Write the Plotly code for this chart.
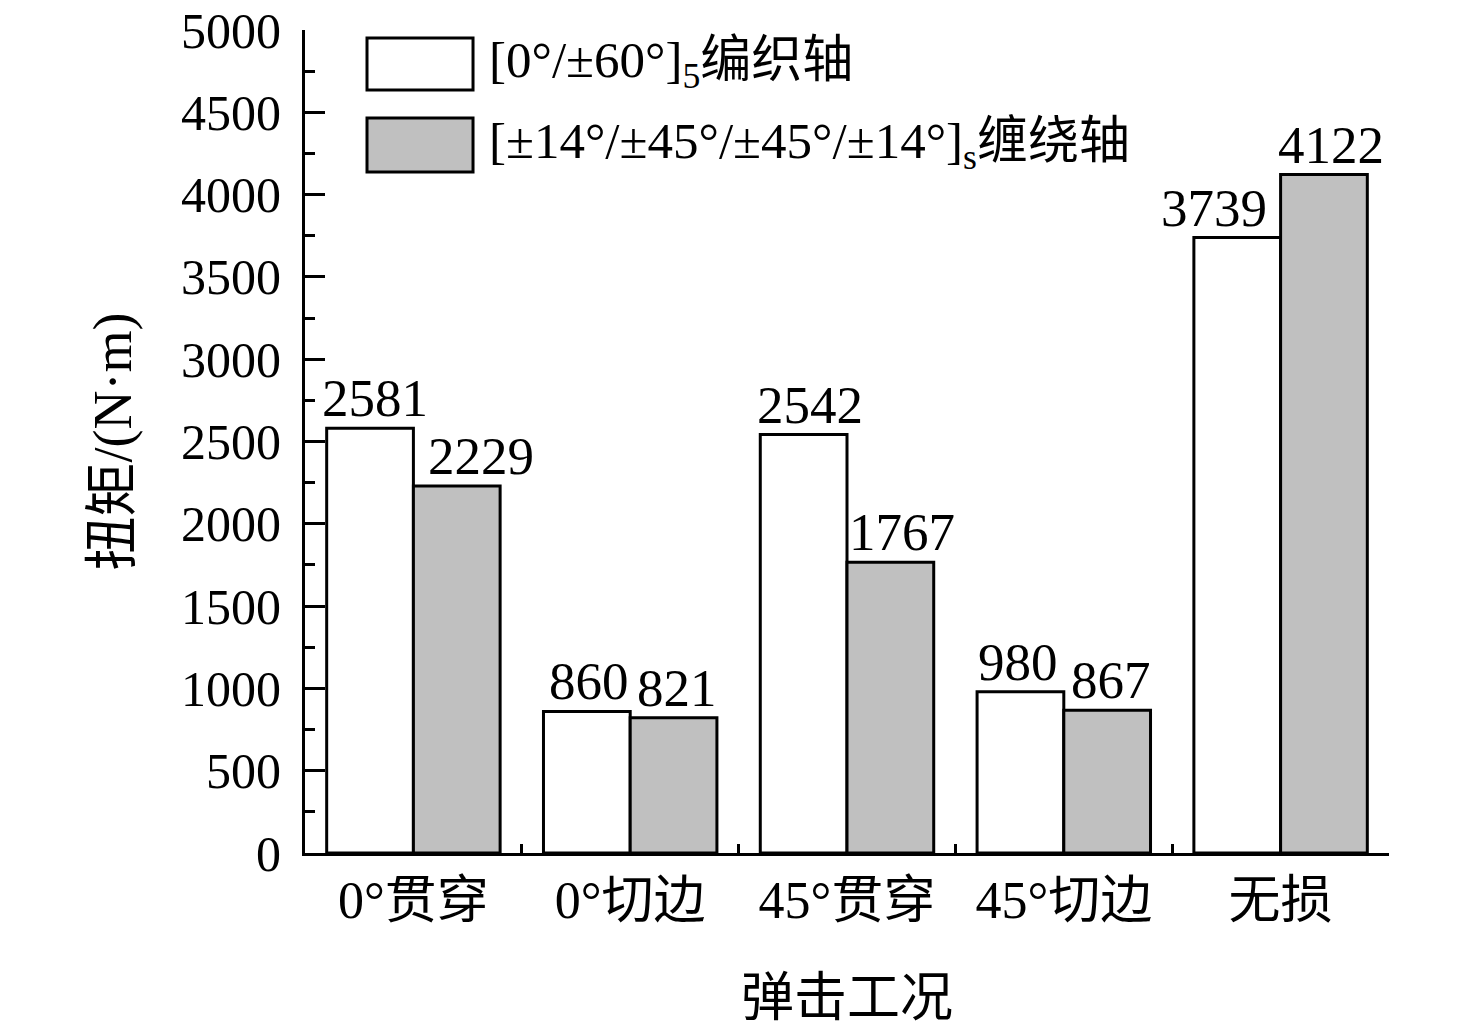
import plotly.graph_objects as go

categories = ["0°贯穿", "0°切边", "45°贯穿", "45°切边", "无损"]
braided = [2581, 860, 2542, 980, 3739]
wound = [2229, 821, 1767, 867, 4122]
series_names = ["[0°/±60°]<sub>5</sub>编织轴", "[±14°/±45°/±45°/±14°]<sub>s</sub>缠绕轴"]
series_colors = ["#ffffff", "#c0c0c0"]
y_ticks = list(range(0, 5001, 500))

# label nudges (pixels) relative to the bar centre, as placed in the original
label_nudge = [[5, 2, 6, -2, -23], [24, 3, 12, 4, 7]]

FONT = "Liberation Serif, Times New Roman, Noto Sans CJK SC, serif"

W, H = 1476, 1031
L, R, T, B = 305, 87, 30, 178
BARGAP = 0.2
plot_w = W - L - R
cat_w = plot_w / len(categories)
bar_w = cat_w * (1 - BARGAP) / 2

fig = go.Figure()
for vals, name, col in zip([braided, wound], series_names, series_colors):
    fig.add_trace(go.Bar(
        x=categories, y=vals, name=name,
        marker=dict(color=col, line=dict(color="black", width=3)),
        showlegend=False,
    ))

# data labels
for s, vals in enumerate([braided, wound]):
    side = -1 if s == 0 else 1
    for i, (c, v) in enumerate(zip(categories, vals)):
        fig.add_annotation(x=c, y=v, xref="x", yref="y", text=str(v), showarrow=False,
                           xanchor="center", yanchor="bottom",
                           xshift=side * bar_w / 2 + label_nudge[s][i], yshift=-1,
                           font=dict(family=FONT, size=53, color="black"))

# custom legend
legend_rows = [(0.9903, 0.927), (0.893, 0.8275)]
for (y1, y0), name, col in zip(legend_rows, series_names, series_colors):
    fig.add_shape(type="rect", xref="paper", yref="paper",
                  x0=0.0572, x1=0.155, y0=y0, y1=y1,
                  fillcolor=col, line=dict(color="black", width=3))
    fig.add_annotation(xref="paper", yref="paper", x=0.168, y=(y0 + y1) / 2,
                       xanchor="left", yanchor="middle", text=name, showarrow=False,
                       font=dict(family=FONT, size=51, color="black"))

fig.update_layout(
    width=W, height=H,
    margin=dict(l=L, r=R, t=T, b=B),
    paper_bgcolor="white", plot_bgcolor="white",
    barmode="group", bargap=BARGAP, bargroupgap=0,
    font=dict(family=FONT, size=50, color="black"),
)
fig.update_xaxes(
    automargin=False,
    showline=True, linecolor="black", linewidth=3,
    ticks="inside", ticklen=9, tickwidth=3, tickcolor="black", tickson="boundaries",
    tickfont=dict(family=FONT, size=52),
    title=dict(text="弹击工况", font=dict(family=FONT, size=53), standoff=51),
    showgrid=False, zeroline=False,
)
fig.update_yaxes(
    automargin=False, ticklabeloverflow="allow",
    range=[0, 5000], tickvals=y_ticks,
    showline=True, linecolor="black", linewidth=3,
    ticks="inside", ticklen=20, tickwidth=3, tickcolor="black", ticklabelstandoff=11,
    minor=dict(dtick=250, ticks="inside", ticklen=10, tickwidth=3, tickcolor="black", showgrid=False),
    tickfont=dict(family=FONT, size=50),
    title=dict(text="扭矩/(N·m)", font=dict(family=FONT, size=54), standoff=33),
    showgrid=False, zeroline=False,
)

fig.write_html("out.html", config={"displayModeBar": False},
               post_script="document.body.style.margin='0';document.body.style.overflow='hidden';")
